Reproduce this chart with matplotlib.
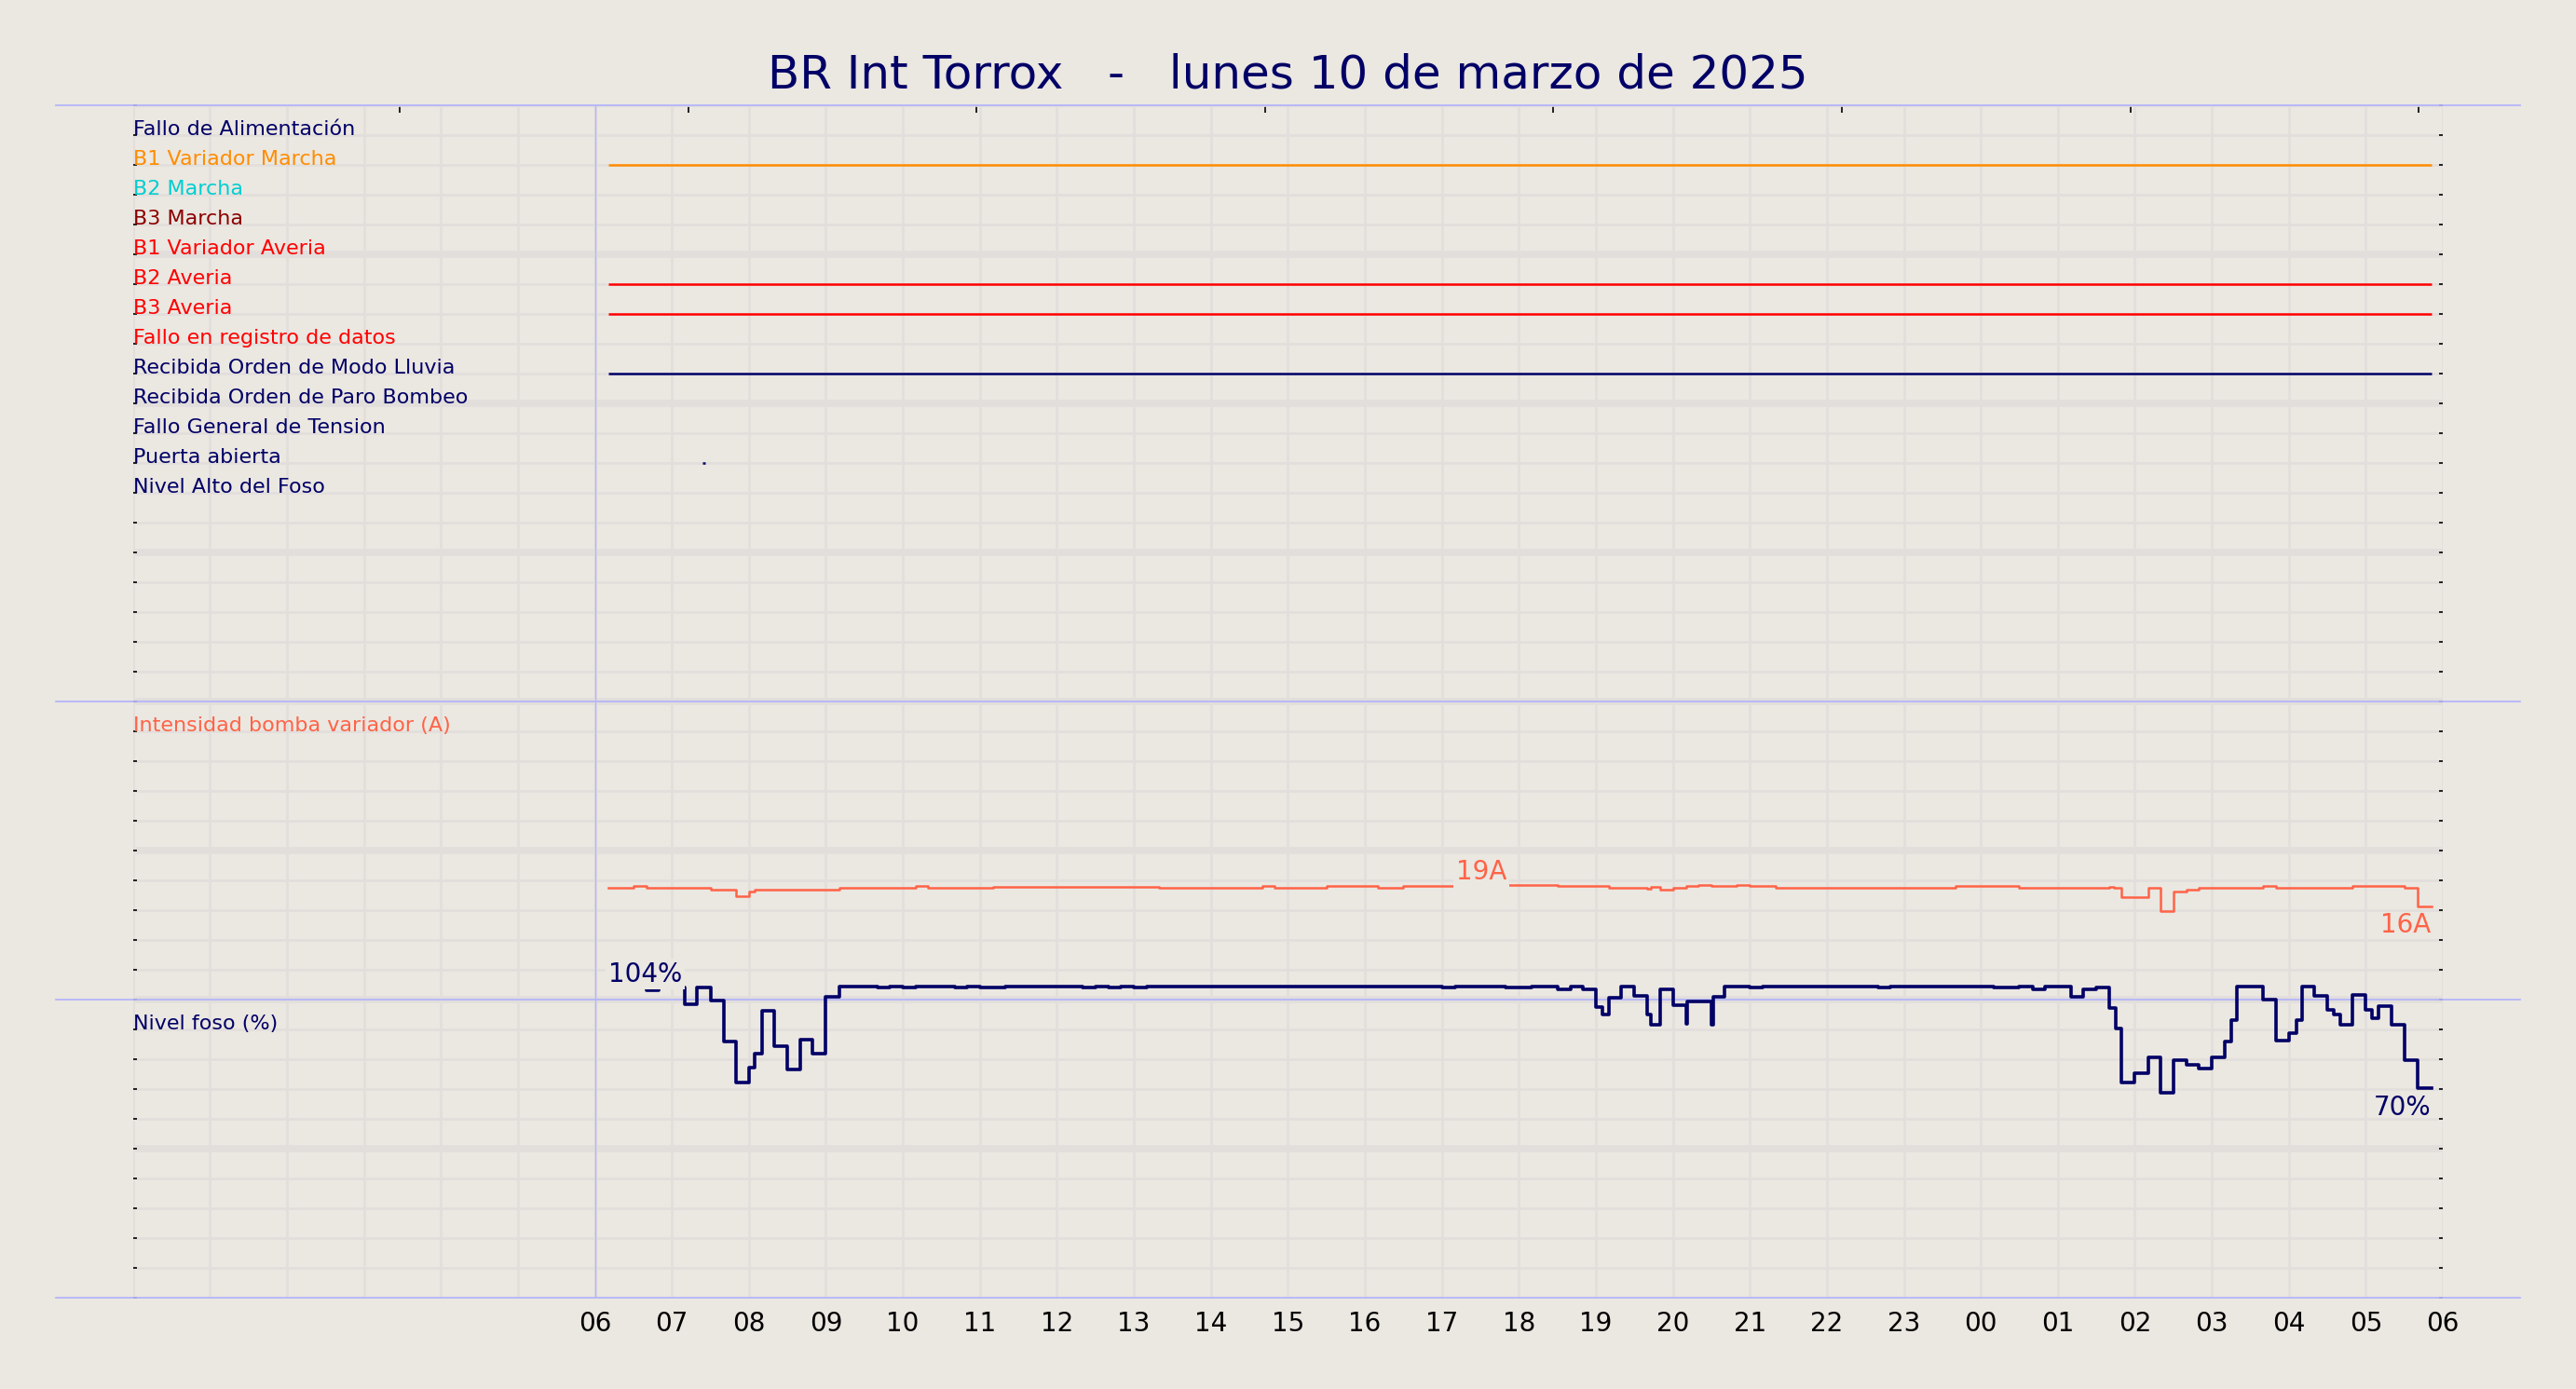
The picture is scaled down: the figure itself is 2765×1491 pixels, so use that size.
import numpy as np
import matplotlib
matplotlib.use('Agg')
from matplotlib import pyplot as plt

# --- data ------------------------------------------------------------------
title = 'BR Int Torrox   -   lunes 10 de marzo de 2025'

# digital signals (one row each in the upper panel)
signal_labels = ['Fallo de Alimentación', 'B1 Variador Marcha', 'B2 Marcha', 'B3 Marcha',
                 'B1 Variador Averia', 'B2 Averia', 'B3 Averia', 'Fallo en registro de datos',
                 'Recibida Orden de Modo Lluvia', 'Recibida Orden de Paro Bombeo',
                 'Fallo General de Tension', 'Puerta abierta', 'Nivel Alto del Foso']
signal_colors = ['#000066', 'darkorange', 'darkturquoise', 'darkred',
                 'red', 'red', 'red', 'red',
                 '#000066', '#000066', '#000066', '#000066', '#000066']

# active intervals of the signals (hours from 00:00 of the day)
event_signal = ['B1 Variador Marcha', 'B2 Averia', 'B3 Averia',
                'Recibida Orden de Modo Lluvia', 'Puerta abierta']
event_start = [6.17, 6.17, 6.17, 6.17, 7.40]
event_end = [29.85, 29.85, 29.85, 29.85, 7.43]

# pump current (A)
curr_label = 'Intensidad bomba variador (A)'
curr_hours = [6.17, 6.50, 6.67, 7.42, 7.50, 7.83, 8.00, 8.08, 8.17, 8.83, 9.00, 9.17, 9.50,
              10.17, 10.33, 11.00, 11.17, 13.33, 14.67, 14.83, 15.50, 16.17, 16.50, 17.17,
              17.85, 18.50, 19.17, 19.67, 19.72, 19.83, 20.00, 20.17, 20.33, 20.50, 20.83,
              21.00, 21.33, 23.67, 24.50, 25.33, 25.67, 25.73, 25.83, 26.17, 26.33, 26.50,
              26.67, 26.83, 27.25, 27.67, 27.83, 28.83, 29.50, 29.67, 29.85]
curr_amps = [18.8, 19.1, 18.8, 18.7, 18.5, 17.3, 18.2, 18.4, 18.5, 18.4, 18.5, 18.7, 18.8,
             19.05, 18.8, 18.7, 18.95, 18.8, 19.1, 18.8, 19.05, 18.8, 19.05, 19.25,
             19.2, 19.05, 18.8, 18.6, 18.9, 18.4, 18.8, 19.05, 19.2, 19.05, 19.2,
             19.05, 18.8, 19.05, 18.8, 18.7, 18.95, 18.7, 17.2, 18.7, 14.9, 18.06,
             18.4, 18.7, 18.8, 19.05, 18.8, 19.05, 18.8, 15.7, 15.7]

# pit level (%)
nivel_label = 'Nivel foso (%)'
nivel_hours = [6.17, 6.67, 6.83, 7.17, 7.33, 7.50, 7.67, 7.83, 8.00, 8.08, 8.17, 8.33, 8.50,
               8.67, 8.83, 9.00, 9.17, 9.67, 9.83, 10.00, 10.17, 10.67, 10.83, 11.00, 11.33,
               12.33, 12.50, 12.67, 12.83, 13.00, 13.17, 17.00, 17.17, 17.83, 18.17, 18.50,
               18.67, 18.83, 19.00, 19.08, 19.17, 19.33, 19.50, 19.67, 19.72, 19.83, 20.00,
               20.17, 20.19, 20.50, 20.52, 20.67, 21.00, 21.17, 22.67, 22.83, 24.17, 24.50,
               24.67, 24.83, 25.17, 25.33, 25.50, 25.67, 25.75, 25.83, 26.00, 26.17, 26.33,
               26.50, 26.67, 26.83, 27.00, 27.17, 27.25, 27.33, 27.67, 27.83, 28.00, 28.10,
               28.17, 28.33, 28.50, 28.58, 28.67, 28.83, 29.00, 29.08, 29.17, 29.33, 29.50,
               29.67, 29.85]
nivel_pct = [104.2, 103.2, 104.2, 98.4, 104.0, 99.6, 85.8, 72.1, 77.2, 81.9, 96.4, 84.4, 76.6,
             86.5, 81.8, 100.9, 104.4, 104.0, 104.4, 104.0, 104.4, 104.0, 104.4, 104.0, 104.4,
             104.0, 104.4, 104.0, 104.4, 104.0, 104.4, 104.0, 104.4, 104.0, 104.4, 103.3,
             104.4, 103.3, 97.5, 94.9, 100.6, 104.4, 101.4, 94.9, 91.5, 103.3, 98.1,
             92.0, 99.3, 91.5, 100.9, 104.4, 104.0, 104.4, 104.0, 104.4, 104.0, 104.4,
             103.3, 104.4, 100.9, 103.3, 104.0, 97.2, 90.3, 72.1, 75.2, 80.6, 68.9,
             79.6, 78.0, 76.9, 80.6, 85.8, 93.1, 104.4, 99.9, 86.1, 88.9, 93.1,
             104.4, 101.1, 96.5, 95.0, 91.7, 101.5, 96.5, 93.9, 97.8, 91.5, 79.6,
             70.2, 70.2]

top_tick_hours = [3.46, 7.21, 10.95, 14.70, 18.44, 22.19, 25.94, 29.69]

# --- layout / style -----------------------------------------------------------
bg = '#ebe7e1'
grid_c = '#e2dedb'
sep_c = '#b4b6fa'
navy = '#000066'
panel_rows = [0, 20, 30, 40]   # upper: signals, middle: current, lower: level
curr_color = 'tomato'
label_size = 16


def curr_to_row(a):
    # 10 rows = 50 A, bottom of middle panel = 0 A
    return 30 - np.asarray(a, dtype=float) / 5.0


def pct_to_row(p):
    # 10 rows = 100 %, bottom of lower panel = 0 %
    return 40 - np.asarray(p, dtype=float) / 10.0


fig = plt.figure(figsize=(27.65, 14.91), dpi=100, facecolor=bg)
ax = fig.add_axes([0.0516, 0.0657, 0.8967, 0.8586])
ax.set_facecolor(bg)
ax.set_xlim(0, 30)
ax.set_ylim(40, 0)
for s in ax.spines.values():
    s.set_visible(False)

# grid
ax.set_axisbelow(True)
ax.set_xticks(range(0, 31))
ax.set_xticklabels([''] * 6 + ['%02d' % (h % 24) for h in range(6, 31)], fontsize=20)
ax.set_yticks(range(0, 41))
ax.set_yticklabels([])
ax.grid(True, color=grid_c, lw=1.9, zorder=0)
for r in range(5, 40, 5):
    ax.axhline(r, color=grid_c, lw=5.5, zorder=0.5)
ax.tick_params(axis='x', length=0, pad=10, colors='black')
ax.tick_params(axis='y', direction='in', length=3, width=1.2, left=True, right=True,
               colors='black')

sec = ax.secondary_xaxis('top')
sec.set_xticks(top_tick_hours)
sec.set_xticklabels([])
sec.tick_params(direction='in', length=6, width=1.2)
for s in sec.spines.values():
    s.set_visible(False)

# panel separators
for r in panel_rows:
    ax.plot([-1, 31], [r, r], color=sep_c, lw=1.3, clip_on=False, zorder=3)
ax.plot([6, 6], [0, 40], color=sep_c, lw=1.0, zorder=3)

# upper panel: signal labels and active intervals
for i, (lab, col) in enumerate(zip(signal_labels, signal_colors)):
    ax.text(0, i + 1, lab, color=col, fontsize=label_size, ha='left', va='baseline')
for name, t0, t1 in zip(event_signal, event_start, event_end):
    i = signal_labels.index(name)
    ax.hlines(i + 1, t0, t1, color=signal_colors[i], lw=1.8, zorder=4)

# middle panel: current
ax.text(0, 21, curr_label, color=curr_color, fontsize=label_size, ha='left', va='baseline')
ax.step(curr_hours, curr_to_row(curr_amps), where='post', color=curr_color, lw=1.8, zorder=4)
imax = int(np.argmax(curr_amps))
xm = (curr_hours[imax] + curr_hours[imax + 1]) / 2
ax.text(xm, curr_to_row(curr_amps[imax]), '%dA' % round(curr_amps[imax]), color=curr_color,
        fontsize=20, ha='center', va='bottom', zorder=5,
        bbox=dict(boxstyle='square,pad=0.1', fc=bg, ec='none'))
ax.annotate('%dA' % round(curr_amps[-1]), (curr_hours[-1], curr_to_row(curr_amps[-1])),
            xytext=(0, -5), textcoords='offset points', color=curr_color, fontsize=20,
            ha='right', va='top', zorder=5)

# lower panel: level
ax.text(0, 31, nivel_label, color=navy, fontsize=label_size, ha='left', va='baseline')
ax.step(nivel_hours, pct_to_row(nivel_pct), where='post', color=navy, lw=2.6, zorder=4)
ax.text(nivel_hours[0], pct_to_row(nivel_pct[0]), '%d%%' % round(nivel_pct[0]), color=navy,
        fontsize=20, ha='left', va='bottom', zorder=5,
        bbox=dict(boxstyle='square,pad=0.1', fc=bg, ec='none'))
ax.annotate('%d%%' % round(nivel_pct[-1]), (nivel_hours[-1], pct_to_row(nivel_pct[-1])),
            xytext=(0, -5), textcoords='offset points', color=navy, fontsize=20,
            ha='right', va='top', zorder=5)

fig.text(0.5, 0.9457, title, ha='center', va='center', fontsize=36, color=navy)

fig.savefig('out.png', dpi=100, facecolor=bg)
